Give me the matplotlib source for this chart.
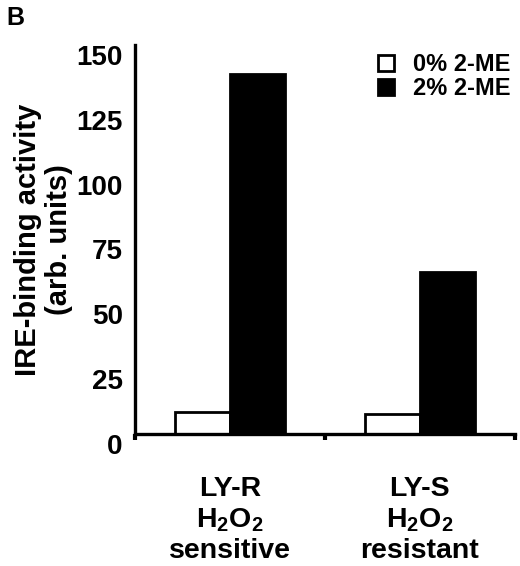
import matplotlib
matplotlib.use('Agg')
import matplotlib.pyplot as plt
import matplotlib.transforms as mtransforms
import numpy as np

plt.rcParams['font.family'] = 'Liberation Sans'
plt.rcParams['font.weight'] = 'bold'
plt.rcParams['mathtext.fontset'] = 'custom'
plt.rcParams['mathtext.rm'] = 'Liberation Sans:bold'
plt.rcParams['mathtext.default'] = 'rm'

# data
categories = ['LY-R\nH$_2$O$_2$\nsensitive', 'LY-S\nH$_2$O$_2$\nresistant']
me0 = [8.5, 7.7]
me2 = [139, 62.5]
series_labels = ['0% 2-ME', '2% 2-ME']
yticks = [0, 25, 50, 75, 100, 125, 150]

fig = plt.figure(figsize=(5.2, 5.66), dpi=100)
ax = fig.add_axes([0.26, 0.233, 0.73, 0.687])

x = np.arange(len(categories)) + 0.5
w = 0.29
ax.bar(x - w / 2, me0, w, color='white', edgecolor='black', linewidth=2, label=series_labels[0])
ax.bar(x + w / 2, me2, w, color='black', edgecolor='black', linewidth=2, label=series_labels[1])

ax.set_xlim(0, 2)
ax.set_ylim(0, 150)
ax.set_yticks(yticks)
ax.set_yticklabels([str(t) for t in yticks], fontsize=20, fontweight='bold')
ax.tick_params(axis='y', length=0, pad=9)
ax.set_xticks([0, 1, 2])
ax.set_xticklabels([])
ax.tick_params(axis='x', length=4, width=3, direction='out')
for lab in ax.get_yticklabels():
    lab.set_transform(lab.get_transform() + mtransforms.ScaledTranslation(0, -7 / 72, fig.dpi_scale_trans))

for c, xc in zip(categories, x):
    ax.text(xc, -0.108, c, transform=ax.get_xaxis_transform(), ha='center', va='top',
            fontsize=20.5, fontweight='bold', linespacing=1.2)

for s in ['top', 'right']:
    ax.spines[s].set_visible(False)
for s in ['left', 'bottom']:
    ax.spines[s].set_linewidth(2.4)

ax.set_ylabel('IRE-binding activity\n(arb. units)', fontsize=21, fontweight='bold',
              linespacing=1.1)
ax.yaxis.set_label_coords(-0.165, 0.5)

leg = ax.legend(loc='upper right', bbox_to_anchor=(1.045, 1.034), frameon=False, fontsize=17,
                handlelength=0.7, handleheight=0.7, handletextpad=0.8, labelspacing=0.05)
for t in leg.get_texts():
    t.set_fontweight('bold')

fig.text(0.012, 0.99, 'B', fontsize=18, fontweight='bold', va='top', ha='left')

plt.savefig('out.png', dpi=100)
